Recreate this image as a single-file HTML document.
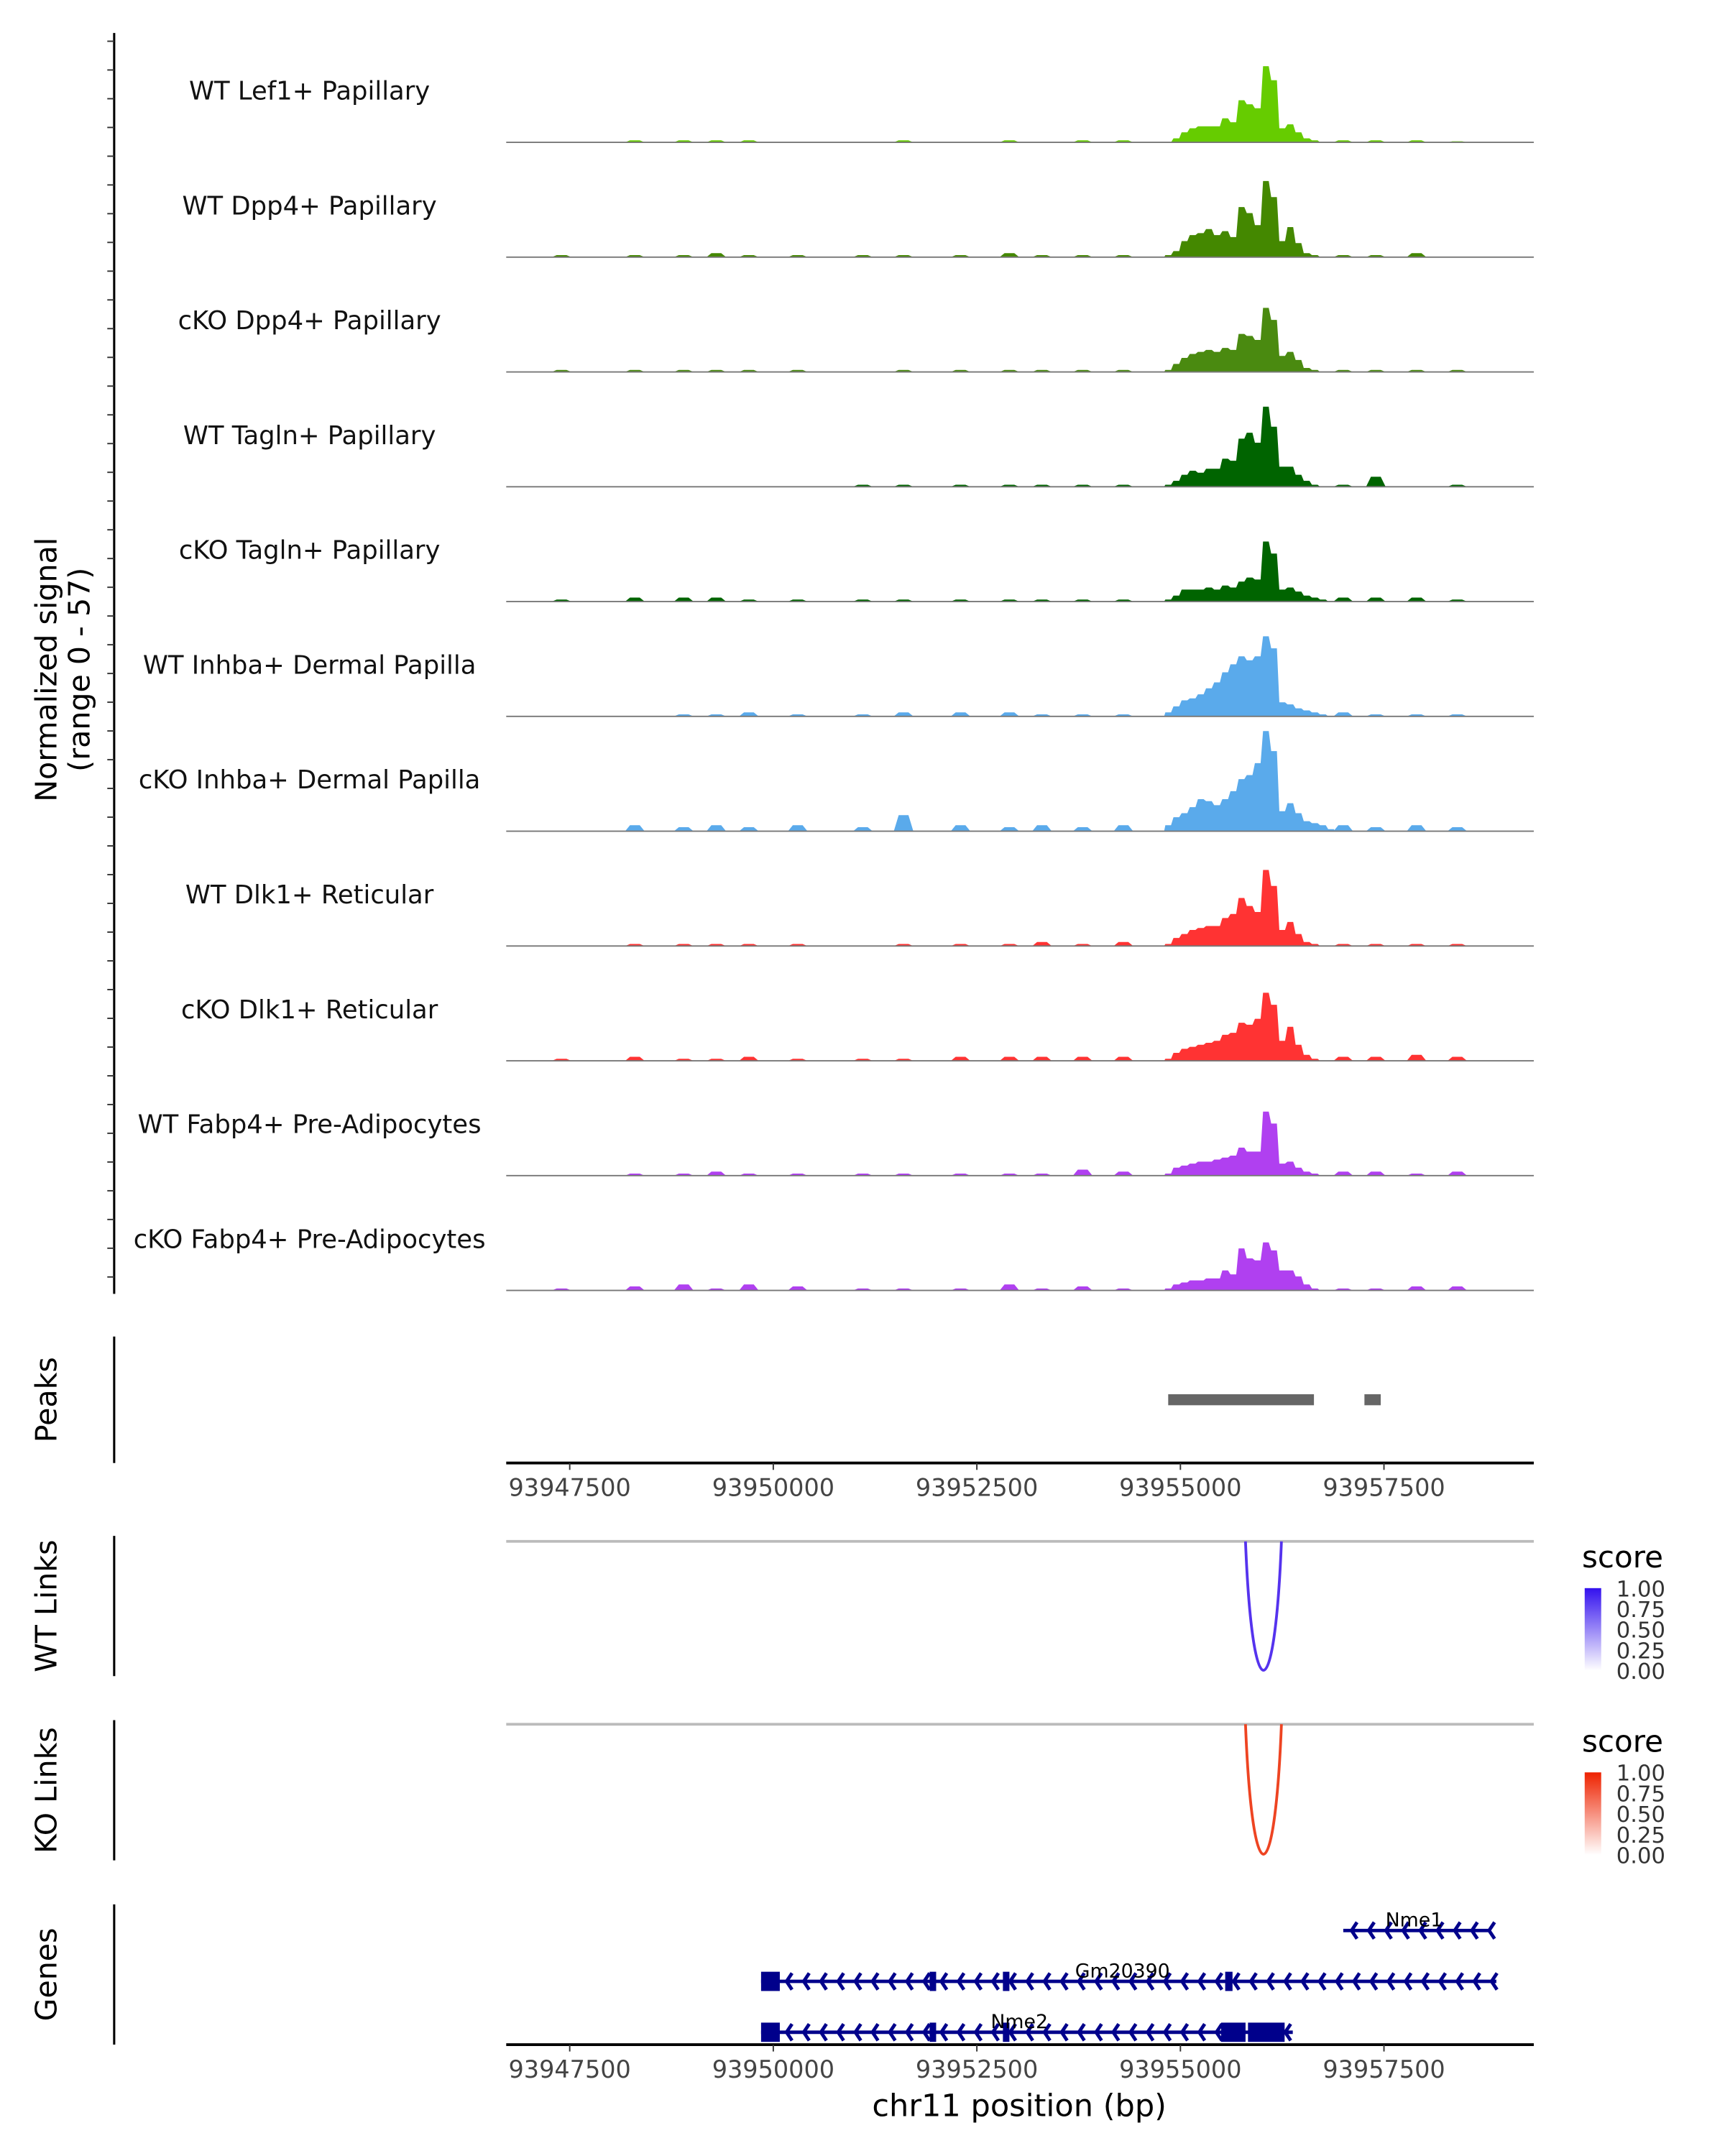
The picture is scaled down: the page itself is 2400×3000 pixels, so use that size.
<!DOCTYPE html>
<html><head><meta charset="utf-8"><style>
html,body{margin:0;padding:0;background:#fff}
svg{display:block;font-family:"DejaVu Sans","Liberation Sans",sans-serif}
</style></head><body>
<svg id="chart" width="2400" height="3000" viewBox="0 0 1254 1568" preserveAspectRatio="none" xmlns="http://www.w3.org/2000/svg">
<rect width="1254" height="1568" fill="#fff"/>
<g id="tracks"></g>
<line x1="83" y1="24" x2="83" y2="941" stroke="#000" stroke-width="1.6"/>
<g id="yticks"></g>
<text transform="translate(41,487) rotate(-90)" text-anchor="middle" font-size="21.5">Normalized signal</text>
<text transform="translate(65,487) rotate(-90)" text-anchor="middle" font-size="21.5">(range 0 - 57)</text>

<g>
<line x1="83" y1="972" x2="83" y2="1064" stroke="#000" stroke-width="1.6"/>
<text transform="translate(41,1018) rotate(-90)" text-anchor="middle" font-size="21.5">Peaks</text>
<g id="peaks"></g>
<line x1="368" y1="1064" x2="1115" y2="1064" stroke="#000" stroke-width="2"/>
<g id="ax1"></g>
</g>

<g>
<line x1="83" y1="1117" x2="83" y2="1219" stroke="#000" stroke-width="1.6"/>
<text transform="translate(41,1168) rotate(-90)" text-anchor="middle" font-size="21.5">WT Links</text>
<line x1="368" y1="1121" x2="1115" y2="1121" stroke="#bbb" stroke-width="2"/>
<g id="wtlink"></g>
</g>
<g>
<text x="1150" y="1140" font-size="22">score</text>
<defs>
<linearGradient id="gb" x1="0" y1="0" x2="0" y2="1"><stop offset="0" stop-color="#3311ee"/><stop offset="1" stop-color="#ffffff"/></linearGradient>
<linearGradient id="gr" x1="0" y1="0" x2="0" y2="1"><stop offset="0" stop-color="#ee2200"/><stop offset="1" stop-color="#ffffff"/></linearGradient>
</defs>
<rect x="1152" y="1155" width="12" height="60" fill="url(#gb)"/>
<g font-size="16" fill="#333"><text x="1175" y="1161">1.00</text><text x="1175" y="1176">0.75</text><text x="1175" y="1191">0.50</text><text x="1175" y="1206">0.25</text><text x="1175" y="1221">0.00</text></g>
</g>

<g>
<line x1="83" y1="1251" x2="83" y2="1353" stroke="#000" stroke-width="1.6"/>
<text transform="translate(41,1302) rotate(-90)" text-anchor="middle" font-size="21.5">KO Links</text>
<line x1="368" y1="1254" x2="1115" y2="1254" stroke="#bbb" stroke-width="2"/>
<g id="kolink"></g>
</g>
<g>
<text x="1150" y="1274" font-size="22">score</text>
<rect x="1152" y="1289" width="12" height="60" fill="url(#gr)"/>
<g font-size="16" fill="#333"><text x="1175" y="1295">1.00</text><text x="1175" y="1310">0.75</text><text x="1175" y="1325">0.50</text><text x="1175" y="1340">0.25</text><text x="1175" y="1355">0.00</text></g>
</g>

<g>
<line x1="83" y1="1385" x2="83" y2="1487" stroke="#000" stroke-width="1.6"/>
<text transform="translate(41,1436) rotate(-90)" text-anchor="middle" font-size="21.5">Genes</text>
<g id="genes"></g>
<line x1="368" y1="1487" x2="1115" y2="1487" stroke="#000" stroke-width="2"/>
<g id="ax2"></g>
<text x="741" y="1539" text-anchor="middle" font-size="22.5">chr11 position (bp)</text>
</g>
</svg>
<script>
const NS="http://www.w3.org/2000/svg";
const trackNames=["WT Lef1+ Papillary","WT Dpp4+ Papillary","cKO Dpp4+ Papillary","WT Tagln+ Papillary","cKO Tagln+ Papillary","WT Inhba+ Dermal Papilla","cKO Inhba+ Dermal Papilla","WT Dlk1+ Reticular","cKO Dlk1+ Reticular","WT Fabp4+ Pre-Adipocytes","cKO Fabp4+ Pre-Adipocytes"];
const trackColors=["#66cc00","#448800","#4a8a10","#006400","#006400","#5aaaeb","#5aaaeb","#ff3333","#ff3333","#b040f0","#b040f0"];
const binStart=93954800, binSize=100;
const coreVals=[
[0,2,5,7,8,8,8,12,10,21,19,17,38,31,7,9,5,2,1,0,0],
[1,3,8,11,12,14,11,13,10,25,22,16,38,30,8,15,7,2,1,0,0],
[1,4,7,9,10,11,10,12,11,19,18,16,32,26,8,10,6,2,1,0,0],
[1,3,6,8,7,9,9,14,13,24,27,22,40,30,10,10,6,3,1,0,0],
[1,3,6,6,6,7,6,8,7,10,12,11,30,24,6,7,5,3,2,1,0],
[2,5,8,9,11,14,17,22,26,30,28,30,40,34,7,6,4,3,2,1,0],
[3,7,9,12,16,15,13,16,20,26,28,34,50,40,10,14,9,5,4,3,1],
[1,4,6,8,9,10,10,14,16,24,20,17,38,30,8,12,6,2,1,0,0],
[1,4,6,7,8,9,10,13,14,19,18,21,34,28,10,17,8,3,1,0,0],
[1,4,5,6,7,7,8,9,10,14,12,12,32,26,6,7,4,2,1,0,0],
[1,3,4,5,5,6,6,10,8,21,16,15,24,20,10,10,7,3,1,0,0]];
const bgPos=[93947400,93948300,93948900,93949300,93949700,93950300,93951100,93951600,93952300,93952900,93953300,93953800,93954300,93957000,93957400,93957900,93958400];
const bgVals=[
[0,1,1,1,1,0,0,1,0,1,0,1,1,1,1,1,0.5],
[1,1,1,2,1,1,1,1,1,2,1,1,1,1,1,2,0],
[1,1,1,1,1,1,0,1,1,1,1,1,1,1,1,1,1],
[0,0,0,0,0,0,1,1,1,1,1,1,1,1,5,0,1],
[1,2,2,2,1,1,1,1,1,1,1,1,1,2,2,2,1],
[0,0,1,1,2,1,1,2,2,2,1,1,1,2,1,1,1],
[0,3,2,3,2,3,2,8,3,2,3,2,3,3,2,3,2],
[0,1,1,1,1,1,0,1,1,1,2,1,2,1,1,1,1],
[1,2,1,1,2,1,1,1,2,2,2,2,2,2,2,3,2],
[0,1,1,2,1,1,1,1,1,1,1,3,2,2,2,1,2],
[1,2,3,1,3,2,1,1,1,3,1,2,1,1,1,2,2]];
const peakStarts=[93954850,93957260];
const peakEnds=[93956640,93957460];
const tickVals=[93947500,93950000,93952500,93955000,93957500];
const xMin=93946720, xMax=93959340, yMax=57;
const X0=368, X1=1115;
function xs(v){return X0+(v-xMin)/(xMax-xMin)*(X1-X0);}
const trackTop=20, trackH=83.5;
function ys(v,i){return trackTop+trackH*(i+1)-v/yMax*83;}

const tg=document.getElementById('tracks');
trackNames.forEach((nm,i)=>{
  const g=document.createElementNS(NS,'g');
  
  
  const base=ys(0,i);
  let d='M'+X0+','+base;
  bgPos.forEach((p,k)=>{
    const v=bgVals[i][k]; if(!v)return;
    d+=' M'+xs(p-120)+','+base+' L'+xs(p-60)+','+ys(v,i)+' L'+xs(p+60)+','+ys(v,i)+' L'+xs(p+120)+','+base+' Z';
  });
  let c='M'+xs(binStart)+','+base;
  coreVals[i].forEach((v,k)=>{
    const a=binStart+k*binSize, b=a+binSize;
    c+=' L'+xs(a+15)+','+ys(v,i)+' L'+xs(b-15)+','+ys(v,i);
  });
  c+=' L'+xs(binStart+coreVals[i].length*binSize)+','+base+' Z';
  const p=document.createElementNS(NS,'path');
  p.setAttribute('d',d+' '+c);p.setAttribute('fill',trackColors[i]);
  
  
  g.appendChild(p);
  const l=document.createElementNS(NS,'line');
  l.setAttribute('x1',X0);l.setAttribute('x2',X1);l.setAttribute('y1',base);l.setAttribute('y2',base);
  l.setAttribute('stroke','#777');l.setAttribute('stroke-width','1');
  g.appendChild(l);
  const t=document.createElementNS(NS,'text');
  t.setAttribute('x',225);t.setAttribute('y',base-31);t.setAttribute('text-anchor','middle');t.setAttribute('font-size','18.5');
  t.setAttribute('fill','#111');t.textContent=nm;
  
  
  g.appendChild(t);
  tg.appendChild(g);
});
const yt=document.getElementById('yticks');
for(let y=30;y<941;y+=20.9){const l=document.createElementNS(NS,'line');l.setAttribute('x1',78);l.setAttribute('x2',83);l.setAttribute('y1',y);l.setAttribute('y2',y);l.setAttribute('stroke','#333');yt.appendChild(l);}

const pk=document.getElementById('peaks');
peakStarts.forEach((s,k)=>{const r=document.createElementNS(NS,'rect');
r.setAttribute('x',xs(s));r.setAttribute('width',xs(peakEnds[k])-xs(s));r.setAttribute('y',1014);r.setAttribute('height',8);r.setAttribute('fill','#666');


pk.appendChild(r);});

function axis(id,y){const g=document.getElementById(id);
tickVals.forEach(v=>{const x=xs(v);
const l=document.createElementNS(NS,'line');l.setAttribute('x1',x);l.setAttribute('x2',x);l.setAttribute('y1',y);l.setAttribute('y2',y+5);l.setAttribute('stroke','#333');g.appendChild(l);
const t=document.createElementNS(NS,'text');t.setAttribute('x',x);t.setAttribute('y',y+24);t.setAttribute('text-anchor','middle');t.setAttribute('font-size','17.5');t.setAttribute('fill','#444');t.textContent=v;


g.appendChild(t);});}
axis('ax1',1064);axis('ax2',1487);

const linkStart=93955850, linkEnd=93956190;
function arc(id,top,bottom,col){const a=xs(linkStart)-3,b=xs(linkEnd)+3;
const p=document.createElementNS(NS,'path');
p.setAttribute('d',`M${a},${top} C${a+5},${bottom+36} ${b-5},${bottom+36} ${b},${top}`);
p.setAttribute('fill','none');p.setAttribute('stroke',col);p.setAttribute('stroke-width','2');


document.getElementById(id).appendChild(p);}
arc('wtlink',1121,1210,'#5533ee');arc('kolink',1254,1344,'#ee4422');

const geneNames=["Nme1","Gm20390","Nme2"];
const geneStart=[93957000,93949850,93949850];
const geneEnd=[93958800,93958880,93956380];
const geneY=[1404,1441,1478];
const geneExons=[[],[[93949850,93950080],[93951920,93952000],[93952820,93952900],[93955550,93955640]],[[93949850,93950080],[93951920,93952000],[93952820,93952900],[93955500,93955800],[93955830,93956280]]];
const gg=document.getElementById('genes');
geneNames.forEach((nm,i)=>{const g=document.createElementNS(NS,'g');


const a=xs(geneStart[i]),b=xs(geneEnd[i]),y=geneY[i];
let d=`M${a},${y} L${b},${y}`;
for(let x=a+6;x<b;x+=12.5){d+=` M${x+4},${y-6} L${x},${y} L${x+4},${y+6}`;}
const p=document.createElementNS(NS,'path');p.setAttribute('d',d);p.setAttribute('stroke','#00008b');p.setAttribute('stroke-width','2.5');p.setAttribute('fill','none');g.appendChild(p);
geneExons[i].forEach(e=>{const r=document.createElementNS(NS,'rect');r.setAttribute('x',xs(e[0]));r.setAttribute('width',Math.max(4,xs(e[1])-xs(e[0])));r.setAttribute('y',y-7);r.setAttribute('height',14);r.setAttribute('fill','#00008b');g.appendChild(r);});
const t=document.createElementNS(NS,'text');t.setAttribute('x',i==0?1028:(i==1?816:741));t.setAttribute('y',y-3);t.setAttribute('text-anchor','middle');t.setAttribute('font-size','14');t.textContent=nm;g.appendChild(t);
gg.appendChild(g);});
</script>
</body></html>
